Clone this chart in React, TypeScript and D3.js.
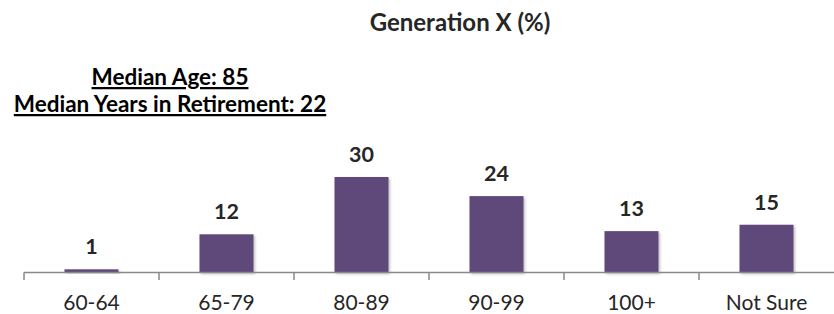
import { useRef, useEffect } from "react";
import * as d3 from "d3";

const categories = ["60-64", "65-79", "80-89", "90-99", "100+", "Not Sure"];
const values = [1, 12, 30, 24, 13, 15];
const title = "Generation X (%)";
const notes = ["Median Age: 85", "Median Years in Retirement: 22"];

const W = 834;
const H = 314;
const FONT = "Lato, 'Open Sans', sans-serif";

export default function App() {
  const ref = useRef<SVGSVGElement>(null);

  useEffect(() => {
    const svg = d3.select(ref.current);
    svg.selectAll("*").remove();

    const baseY = 272.5;
    const x = d3.scaleBand<string>()
      .domain(categories)
      .range([24, 834])
      .paddingInner(0.6)
      .paddingOuter(0.3);
    const y = d3.scaleLinear().domain([0, 30]).range([baseY, 177]);

    // soft shadow under the bars
    const defs = svg.append("defs");
    const f = defs.append("filter").attr("id", "sh").attr("x", "-20%").attr("y", "-20%").attr("width", "140%").attr("height", "140%");
    f.append("feDropShadow").attr("dx", 1.5).attr("dy", 1.5).attr("stdDeviation", 1.2).attr("flood-color", "#000").attr("flood-opacity", 0.25);

    // title
    svg.append("text")
      .attr("x", 460).attr("y", 31)
      .attr("text-anchor", "middle")
      .attr("font-family", FONT).attr("font-weight", 700).attr("font-size", 24)
      .attr("fill", "#262626")
      .text(title);

    // median notes
    notes.forEach((t, i) => {
      svg.append("text")
        .attr("x", 170).attr("y", 85 + i * 27)
        .attr("text-anchor", "middle")
        .attr("font-family", FONT).attr("font-weight", 700).attr("font-size", 22.5)
        .attr("fill", "#000")
        .attr("text-decoration", "underline")
        .text(t);
    });

    // bars
    svg.append("g")
      .selectAll("rect")
      .data(values)
      .join("rect")
      .attr("x", (_, i) => x(categories[i])!)
      .attr("y", d => y(d))
      .attr("width", x.bandwidth())
      .attr("height", d => baseY - y(d))
      .attr("fill", "#5F497A")
      .attr("filter", "url(#sh)");

    // value labels
    svg.append("g")
      .selectAll("text")
      .data(values)
      .join("text")
      .attr("x", (_, i) => x(categories[i])! + x.bandwidth() / 2)
      .attr("y", d => y(d) - 15)
      .attr("text-anchor", "middle")
      .attr("font-family", FONT).attr("font-weight", 700).attr("font-size", 21.5)
      .attr("fill", "#262626")
      .text(d => d);

    // axis
    const ax = svg.append("g");
    ax.append("line")
      .attr("x1", 24).attr("x2", 834)
      .attr("y1", baseY).attr("y2", baseY)
      .attr("stroke", "#898989").attr("stroke-width", 1.5);
    const bounds = categories.map(c => x(c)! - x.step() * x.paddingOuter());
    ax.selectAll("line.tick")
      .data(bounds)
      .join("line")
      .attr("class", "tick")
      .attr("x1", d => d).attr("x2", d => d)
      .attr("y1", baseY).attr("y2", baseY + 7.5)
      .attr("stroke", "#898989").attr("stroke-width", 1.5);
    ax.selectAll("text")
      .data(categories)
      .join("text")
      .attr("x", d => x(d)! + x.bandwidth() / 2)
      .attr("y", 310)
      .attr("text-anchor", "middle")
      .attr("font-family", FONT).attr("font-size", 21)
      .attr("fill", "#262626")
      .text(d => d);
  }, []);

  return (
    <svg ref={ref} width={W} height={H}
      style={{ position: "absolute", left: 0, top: 0, display: "block" }} />
  );
}
